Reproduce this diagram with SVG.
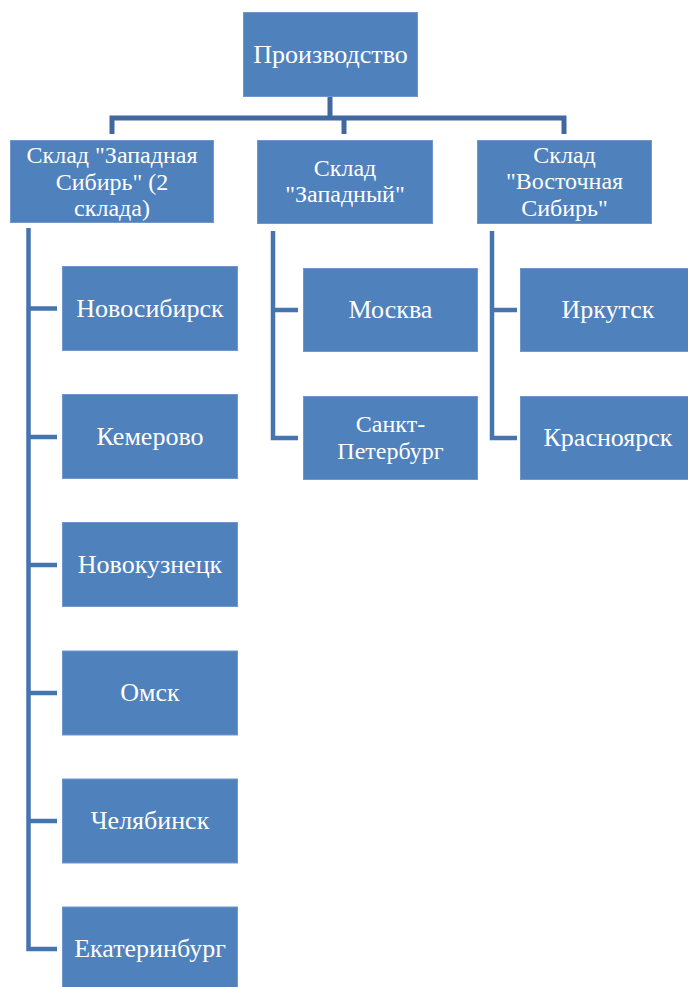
<svg xmlns="http://www.w3.org/2000/svg" width="688" height="987" viewBox="0 0 688 987">
<style>
.box{fill:#4F81BD;stroke:#6F97CB;stroke-width:1}
.t{font-family:"Liberation Serif","Times New Roman",serif;font-size:26px;fill:#FFFFFF;text-anchor:middle}
.m{font-size:24px}
.c{fill:none;stroke:#40699F;stroke-width:5;stroke-linejoin:miter;stroke-linecap:butt}
.b{fill:none;stroke:#4574AF;stroke-width:4.5;stroke-linejoin:miter;stroke-linecap:butt}
</style>
<rect width="688" height="987" fill="#FFFFFF"/>
<g id="connectors">
<path class="c" d="M330,96 V118 M112,134 V118 H564 V134 M344,118 V134"/>
<path class="b" d="M28.5,228 V949 H57 M28.5,308.5 H57 M28.5,437 H57 M28.5,565 H57 M28.5,693 H57 M28.5,821 H57"/>
<path class="b" d="M273,231 V438 H298 M273,310 H298"/>
<path class="b" d="M492,231 V438 H517 M492,310 H517"/>
</g>
<g id="n-proizvodstvo">
<rect class="box" x="243.5" y="12.5" width="174" height="84"/>
<text class="t" x="330.5" y="63">Производство</text>
</g>
<g id="n-zapsib">
<rect class="box" x="10.5" y="140.5" width="203" height="82"/>
<text class="t m" x="112" y="163">Склад "Западная</text>
<text class="t m" x="112" y="189.6">Сибирь" (2</text>
<text class="t m" x="112" y="216.2">склада)</text>
</g>
<g id="n-zapadny">
<rect class="box" x="257.5" y="140.5" width="175" height="83"/>
<text class="t m" x="345" y="175.5">Склад</text>
<text class="t m" x="345" y="202.1">"Западный"</text>
</g>
<g id="n-vostsib">
<rect class="box" x="477.5" y="140.5" width="174" height="83"/>
<text class="t m" x="564.5" y="162.5">Склад</text>
<text class="t m" x="564.5" y="189.1">"Восточная</text>
<text class="t m" x="564.5" y="215.7">Сибирь"</text>
</g>
<g id="n-novosibirsk">
<rect class="box" x="62.5" y="266.5" width="175" height="84"/>
<text class="t" x="150" y="317">Новосибирск</text>
</g>
<g id="n-kemerovo">
<rect class="box" x="62.5" y="394.5" width="175" height="84"/>
<text class="t" x="150" y="445">Кемерово</text>
</g>
<g id="n-novokuznetsk">
<rect class="box" x="62.5" y="522.5" width="175" height="84"/>
<text class="t" x="150" y="573">Новокузнецк</text>
</g>
<g id="n-omsk">
<rect class="box" x="62.5" y="651" width="175" height="84"/>
<text class="t" x="150" y="701">Омск</text>
</g>
<g id="n-chelyabinsk">
<rect class="box" x="62.5" y="779" width="175" height="84"/>
<text class="t" x="150" y="829">Челябинск</text>
</g>
<g id="n-ekaterinburg">
<rect class="box" x="62.5" y="907" width="175" height="84"/>
<text class="t" x="150" y="957">Екатеринбург</text>
</g>
<g id="n-moskva">
<rect class="box" x="303.5" y="268.5" width="174" height="83"/>
<text class="t" x="390.5" y="318">Москва</text>
</g>
<g id="n-spb">
<rect class="box" x="303.5" y="396.5" width="174" height="83"/>
<text class="t m" x="390.5" y="432">Санкт-</text>
<text class="t m" x="390.5" y="458.6">Петербург</text>
</g>
<g id="n-irkutsk">
<rect class="box" x="520.5" y="268.5" width="175" height="83"/>
<text class="t" x="608" y="318">Иркутск</text>
</g>
<g id="n-krasnoyarsk">
<rect class="box" x="520.5" y="396.5" width="175" height="83"/>
<text class="t" x="608" y="446">Красноярск</text>
</g>
</svg>
